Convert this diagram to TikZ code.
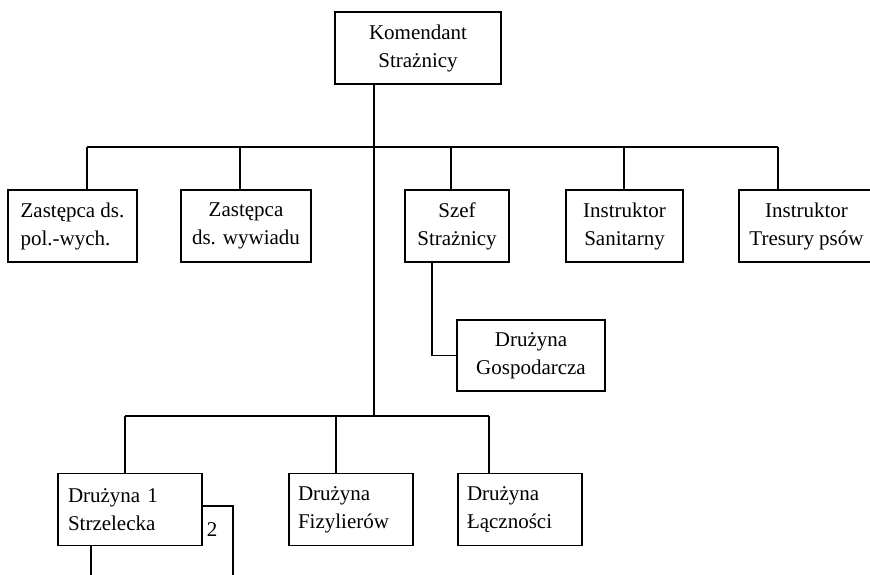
\documentclass[tikz,border=0pt]{standalone}
\usepackage{fontspec}
\setmainfont{Liberation Serif}
\usepackage{tikz}

\begin{document}
\begin{tikzpicture}[x=1pt, y=-1pt, line width=1.3pt, font=\fontsize{21}{28}\selectfont,
  main/.style = {draw, minimum height=72pt, inner sep=0pt, align=center},
  lmain/.style = {draw, minimum height=72pt, inner ysep=0pt, align=left}]
\useasboundingbox (0,0) rectangle (870,574);

\node[main, minimum width=166pt] (1) at (418,48) {Komendant\\Strażnicy};

\node[main, align=left, minimum width=129pt] (2) at (72.5,226) {Zastępca ds.\\pol.-wych.};
\node[main, minimum width=130pt] (3) at (246,226) {Zastępca\\ds. wywiadu};
\node[main, minimum width=104pt] (4) at (457,226) {Szef\\Strażnicy};
\node[main, minimum width=117pt] (5) at (624.5,226) {Instruktor\\Sanitarny};
\node[main, minimum width=135pt] (6) at (806.5,226) {Instruktor\\Tresury psów};

\node[main, minimum width=148pt, minimum height=71pt] (7) at (531,355.5) {Drużyna\\Gospodarcza};

\node[lmain, inner xsep=10pt, text width=124pt] (8) at (130,509.5) {Drużyna 1\\Strzelecka};
\node[lmain, inner xsep=9pt, text width=106pt] (9) at (351,509.5) {Drużyna\\Fizylierów};
\node[lmain, inner xsep=9pt, text width=106pt] (10) at (520,509.5) {Drużyna\\Łączności};

\node (n2) at (212,530) {2};

% upper line
\coordinate (a) at (87,147);
\coordinate (b) at (240,147);
\coordinate (c) at (451,147);
\coordinate (d) at (624,147);
\coordinate (e) at (778,147);
\draw (a) -- (e);
\draw (a) -- (a |- 2.north);
\draw (b) -- (b |- 3.north);
\draw (c) -- (c |- 4.north);
\draw (d) -- (d |- 5.north);
\draw (e) -- (e |- 6.north);

% lower line
\coordinate (m) at (374,416);
\coordinate (f) at (125,416);
\coordinate (h) at (336,416);
\coordinate (g) at (489,416);
\draw (1.south -| m) -- (m);
\draw (f) -- (g);
\draw (f) -- (f |- 8.north);
\draw (h) -- (h |- 9.north);
\draw (g) -- (g |- 10.north);

\draw (4.south -| 432,0) |- (7.west);

\coordinate (s1) at (91,590);
\coordinate (s2) at (233,590);
\draw (8.south -| s1) -- (s1);
\draw (8.east |- 0,506) -| (s2);
\end{tikzpicture}
\end{document}
